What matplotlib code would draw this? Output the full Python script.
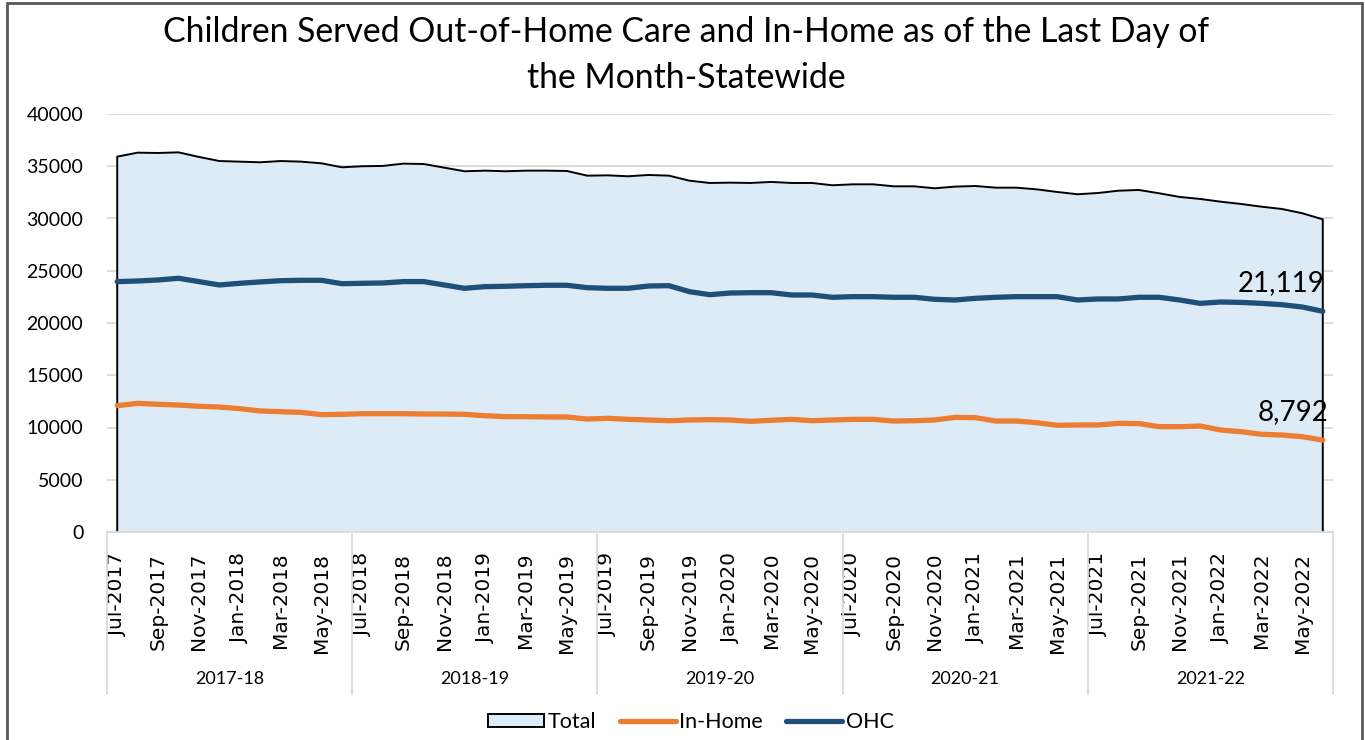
import matplotlib
matplotlib.use("Agg")
import matplotlib.pyplot as plt
import numpy as np
import pandas as pd
from matplotlib.patches import Patch, Rectangle
from matplotlib.lines import Line2D

plt.rcParams['font.family'] = ['Lato', 'DejaVu Sans']

months = list(pd.date_range('2017-07-01', periods=60, freq='MS').strftime('%b-%Y'))
fiscal_years = ['2017-18', '2018-19', '2019-20', '2020-21', '2021-22']

total = [35920, 36300, 36270, 36330, 35890, 35500, 35440, 35380, 35500, 35440,
         35280, 34900, 35000, 35030, 35250, 35215, 34865, 34520, 34580, 34520,
         34580, 34580, 34550, 34100, 34130, 34040, 34165, 34100, 33620, 33400,
         33430, 33400, 33500, 33400, 33400, 33180, 33270, 33270, 33080, 33080,
         32890, 33050, 33110, 32950, 32950, 32790, 32540, 32320, 32440, 32660,
         32730, 32410, 32060, 31870, 31610, 31390, 31130, 30910, 30500, 29920]

in_home = [12090, 12310, 12220, 12150, 12030, 11960, 11800, 11580, 11510, 11450,
           11230, 11260, 11320, 11320, 11320, 11290, 11290, 11260, 11130, 11040,
           11040, 11005, 11005, 10810, 10880, 10780, 10720, 10650, 10720, 10750,
           10720, 10590, 10690, 10780, 10650, 10720, 10780, 10780, 10620, 10650,
           10720, 10970, 10940, 10620, 10620, 10460, 10210, 10240, 10240, 10400,
           10370, 10080, 10080, 10140, 9760, 9600, 9350, 9280, 9120, 8792]

ohc = [23960, 24020, 24120, 24280, 23960, 23640, 23800, 23930, 24050, 24085,
       24085, 23760, 23800, 23830, 23960, 23960, 23640, 23320, 23480, 23510,
       23570, 23610, 23610, 23380, 23320, 23320, 23540, 23570, 23000, 22710,
       22870, 22900, 22900, 22680, 22680, 22460, 22520, 22520, 22460, 22460,
       22270, 22200, 22360, 22460, 22520, 22520, 22520, 22200, 22300, 22300,
       22460, 22460, 22200, 21880, 22010, 21970, 21880, 21750, 21530, 21119]

C_FILL = '#DDEBF7'
C_ORANGE = '#ED7D31'
C_BLUE = '#1F4E79'
C_GRID = '#D9D9D9'

fig = plt.figure(figsize=(13.65, 7.40), dpi=100)
W, H = 1365, 740
ax = fig.add_axes([107 / W, 1 - 532 / H, (1333 - 107) / W, (532 - 114) / H])

x = np.arange(len(months))
ax.fill_between(x, 0, total, color=C_FILL, linewidth=0, zorder=1)
ax.plot(np.concatenate([[x[0]], x, [x[-1]]]), np.concatenate([[0], total, [0]]),
        color='black', lw=1.4, zorder=2, solid_joinstyle='round')
ax.plot(x, in_home, color=C_ORANGE, lw=3.8, zorder=3, solid_capstyle='round', solid_joinstyle='round')
ax.plot(x, ohc, color=C_BLUE, lw=3.8, zorder=4, solid_capstyle='round', solid_joinstyle='round')

ax.set_xlim(-0.5, len(months) - 0.5)
ax.set_ylim(0, 40000)
ax.set_yticks(np.arange(0, 40001, 5000))
ax.yaxis.grid(True, color=C_GRID, lw=1.3, zorder=0)
ax.set_axisbelow(True)
for s in ['top', 'right', 'left']:
    ax.spines[s].set_visible(False)
ax.spines['bottom'].set_color(C_GRID)
ax.spines['bottom'].set_linewidth(1.3)
ax.tick_params(axis='y', length=0, pad=17, labelsize=14)
ax.tick_params(axis='x', length=0, pad=15)
ax.set_xticks(x[::2])
ax.set_xticklabels(months[::2], rotation=90, va='top', ha='center', fontsize=14.5)
for lab in ax.get_xticklabels():
    lab.set_fontfamily(['DejaVu Sans'])

# fiscal-year group labels and separators
trans = ax.get_xaxis_transform()
n_per = 12
for i, fy in enumerate(fiscal_years):
    ax.text(i * n_per + (n_per - 1) / 2, -(679 - 532) / (532 - 114), fy, transform=trans,
            ha='center', va='center', fontsize=13)
for b in range(len(fiscal_years) + 1):
    ax.plot([b * n_per - 0.5] * 2, [0, -(694 - 532) / (532 - 114)], transform=trans,
            color=C_GRID, lw=1.3, clip_on=False)

# data labels for last points
ax.annotate(f'{ohc[-1]:,}', (x[-1], ohc[-1]), xytext=(1, 11), textcoords='offset points',
            ha='right', va='bottom', fontsize=20)
ax.annotate(f'{in_home[-1]:,}', (x[-1], in_home[-1]), xytext=(4, 11), textcoords='offset points',
            ha='right', va='bottom', fontsize=20)

fig.text(686 / W, 1 - 55 / H, 'Children Served Out-of-Home Care and In-Home as of the Last Day of\nthe Month-Statewide',
         ha='center', va='center', fontsize=24.3, linespacing=1.5)

handles = [Patch(facecolor=C_FILL, edgecolor='black', lw=1.4),
           Line2D([0], [0], color=C_ORANGE, lw=3.8, solid_capstyle='round'),
           Line2D([0], [0], color=C_BLUE, lw=3.8, solid_capstyle='round')]
fig.legend(handles, ['Total', 'In-Home', 'OHC'], loc='center', bbox_to_anchor=(691 / W, 1 - 722 / H),
           ncol=3, frameon=False, fontsize=15.5, handlelength=2.6, handleheight=0.6,
           handletextpad=0.15, columnspacing=1.1)

fig.patches.append(Rectangle((7 / W, -0.05), (1362 - 7) / W, 1 - 3 / H + 0.05, transform=fig.transFigure,
                             fill=False, edgecolor='#595959', lw=2))

fig.savefig('out.png', dpi=100)
